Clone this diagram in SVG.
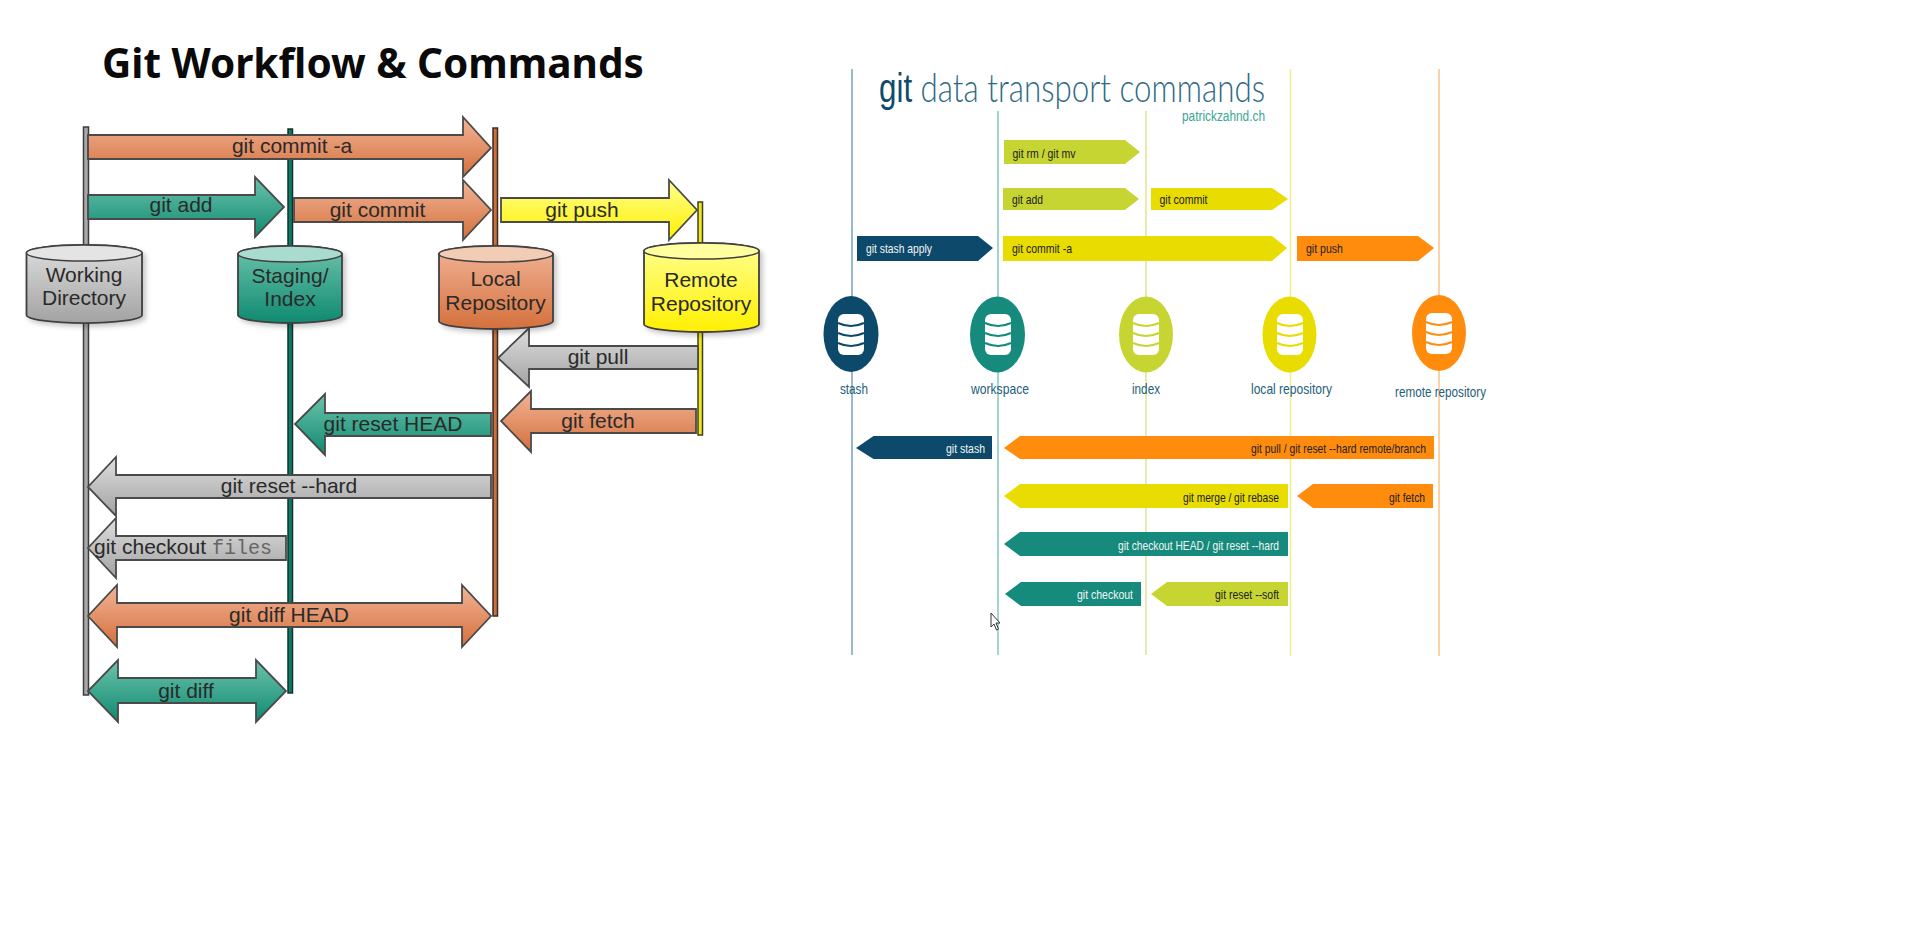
<svg xmlns="http://www.w3.org/2000/svg" xmlns:xlink="http://www.w3.org/1999/xlink" width="1914" height="942" viewBox="0 0 1914 942">
<style>
text{font-family:"Liberation Sans",Arial,sans-serif}
.title{font-family:"Noto Sans","Open Sans",sans-serif;font-weight:700;font-size:40.500px;fill:#0a0a0a}
.lab{font-size:21px;fill:#2a2a2a;text-anchor:middle}
.mono{font-family:"Liberation Mono",monospace;font-size:20px;fill:#666}
.a{stroke:#4a4a4a;stroke-width:1.8;stroke-linejoin:miter}
.or{fill:url(#gOr)}.te{fill:url(#gTe)}.gr{fill:url(#gGr)}.ye{fill:url(#gYe)}
.cy{stroke:#404040;stroke-width:1.8;filter:url(#sh)}
.rim{stroke:#404040;stroke-width:1.5}
.ll{stroke-width:1.5}
.pt{font-size:13px;fill:#222}
.pw{font-size:13px;fill:#f2f6f6}
.nl{font-size:15px;fill:#25607a}
.rl{stroke-width:1.6;fill:none}
.sep{fill:none;stroke:currentColor;stroke-width:2}
.soft{filter:url(#bl)}
</style>
<defs>
<linearGradient id="gOr" x1="0" y1="0" x2="0" y2="1"><stop offset="0" stop-color="#f2b497"/><stop offset="1" stop-color="#d4703c"/></linearGradient>
<linearGradient id="gTe" x1="0" y1="0" x2="0" y2="1"><stop offset="0" stop-color="#6cc3ac"/><stop offset="1" stop-color="#0f8a70"/></linearGradient>
<linearGradient id="gGr" x1="0" y1="0" x2="0" y2="1"><stop offset="0" stop-color="#dedede"/><stop offset="1" stop-color="#a2a2a2"/></linearGradient>
<linearGradient id="gYe" x1="0" y1="0" x2="0" y2="1"><stop offset="0" stop-color="#ffff90"/><stop offset="1" stop-color="#fff000"/></linearGradient>
<filter id="sh" x="-15%" y="-15%" width="130%" height="130%"><feDropShadow dx="3" dy="3" stdDeviation="2.500" flood-color="#000" flood-opacity=".22"/></filter>
<filter id="bl" x="-5%" y="-10%" width="110%" height="120%"><feGaussianBlur stdDeviation=".6"/></filter>
<g id="db" class="soft">
<rect x="-13" y="-20" width="26" height="41" rx="6" fill="#fff"/>
<path class="sep" d="M-13,-11Q0,-5 13,-11M-13,-1Q0,5 13,-1M-13,9Q0,15 13,9"/>
</g>
</defs>
<rect width="1914" height="942" fill="#fff"/>
<text class="title" x="102" y="78">Git Workflow &amp; Commands</text>

<g id="connectors">
<g id="lifelines-left">
<rect class="ll" x="83.500" y="127" width="5" height="568" fill="#a8a8a8" stroke="#3c3c3c"/>
<rect class="ll" x="288" y="129" width="4.500" height="564" fill="#0d7a66" stroke="#12332c"/>
<rect class="ll" x="493" y="128" width="4.500" height="488" fill="#c8703e" stroke="#3c2a20"/>
<rect class="ll" x="698" y="202" width="4.500" height="233" fill="#eee820" stroke="#40401c"/>
</g>
<g id="arrows-left">
<g id="a-commit-a"><path class="a or" d="M88,135H463V117L491,148L463,177V159H88Z"/><text class="lab" x="292" y="153">git commit -a</text></g>
<g id="a-add"><path class="a te" d="M88,195H255V177L284,207L255,237V219H88Z"/><text class="lab" x="181" y="212">git add</text></g>
<g id="a-commit"><path class="a or" d="M294,198H463V180L491,210L463,240V222H294Z"/><text class="lab" x="377.500" y="217">git commit</text></g>
<g id="a-push"><path class="a ye" d="M501,198H669V180L697,210L669,240V222H501Z"/><text class="lab" x="582" y="217">git push</text></g>
<g id="a-pull"><path class="a gr" d="M698,346H529V328L498,358L529,387V369H698Z"/><text class="lab" x="598" y="364">git pull</text></g>
<g id="a-fetch"><path class="a or" d="M696,409H531V391L501,421L531,452V433H696Z"/><text class="lab" x="598" y="428">git fetch</text></g>
<g id="a-reset-head"><path class="a te" d="M491,413H325V394L295,424L325,455V436H491Z"/><text class="lab" x="393" y="431">git reset HEAD</text></g>
<g id="a-reset-hard"><path class="a gr" d="M491,475H116V457L88,487L116,516V498H491Z"/><text class="lab" x="289" y="493">git reset --hard</text></g>
<g id="a-checkout"><path class="a gr" d="M286,536H116V518L88,548L116,578V560H286Z"/><text class="lab" style="text-anchor:start" x="94" y="554">git checkout <tspan class="mono">files</tspan></text></g>
<g id="a-diff-head"><path class="a or" d="M117,603H462V585L491,616L462,647V627H117V647L88,616L117,585Z"/><text class="lab" x="289" y="622">git diff HEAD</text></g>
<g id="a-diff"><path class="a te" d="M118,678H256V660L286,691L256,722V703H118V722L88,691L118,660Z"/><text class="lab" x="186" y="698">git diff</text></g>
</g>
<g id="lifelines-right">
<path class="rl" stroke="#7fa9bd" d="M852,69V655"/>
<path class="rl" stroke="#8ccac2" d="M998,111V655"/>
<path class="rl" stroke="#e0e79c" d="M1146,111V655"/>
<path class="rl" stroke="#f1ee92" d="M1290.500,69V656"/>
<path class="rl" stroke="#fbc792" d="M1439,69V656"/>
</g>
<g id="pills">
<g id="p-rm"><path class="soft" fill="#c6d530" d="M1004,140H1125L1140,152L1125,164H1004Z"/><text class="pt" x="1012.500" y="158" textLength="63" lengthAdjust="spacingAndGlyphs">git rm / git mv</text></g>
<g id="p-add"><path class="soft" fill="#c6d530" d="M1003,188H1125L1139,199L1125,210H1003Z"/><text class="pt" x="1012" y="204" textLength="31" lengthAdjust="spacingAndGlyphs">git add</text></g>
<g id="p-commit"><path class="soft" fill="#e8dc00" d="M1151,188H1272L1288,199L1272,210H1151Z"/><text class="pt" x="1159.500" y="204" textLength="48" lengthAdjust="spacingAndGlyphs">git commit</text></g>
<g id="p-stash-apply"><path class="soft" fill="#0a4a6b" d="M857,236H978L993,248L978,261H857Z"/><text class="pw" x="866" y="253" textLength="66" lengthAdjust="spacingAndGlyphs">git stash apply</text></g>
<g id="p-commit-a"><path class="soft" fill="#e8dc00" d="M1003,236H1272L1287,248L1272,261H1003Z"/><text class="pt" x="1012" y="253" textLength="60" lengthAdjust="spacingAndGlyphs">git commit -a</text></g>
<g id="p-push"><path class="soft" fill="#ff8c10" d="M1297,236H1418L1434,248L1418,261H1297Z"/><text class="pt" x="1306" y="253" textLength="37" lengthAdjust="spacingAndGlyphs">git push</text></g>
<g id="p-stash"><path class="soft" fill="#0a4a6b" d="M856,448L873.500,436H992V459H873.500Z"/><text class="pw" x="946" y="453" textLength="39" lengthAdjust="spacingAndGlyphs">git stash</text></g>
<g id="p-pull"><path class="soft" fill="#ff8c10" d="M1004,448L1020,436H1434V459H1020Z"/><text class="pt" x="1251" y="453" textLength="175" lengthAdjust="spacingAndGlyphs">git pull / git reset --hard remote/branch</text></g>
<g id="p-merge"><path class="soft" fill="#e8dc00" d="M1004,496L1020,484H1288V508H1020Z"/><text class="pt" x="1183" y="502" textLength="96" lengthAdjust="spacingAndGlyphs">git merge / git rebase</text></g>
<g id="p-fetch"><path class="soft" fill="#ff8c10" d="M1297,496L1313,484H1433V508H1313Z"/><text class="pt" x="1389" y="502" textLength="36" lengthAdjust="spacingAndGlyphs">git fetch</text></g>
<g id="p-checkout-head"><path class="soft" fill="#128a7c" d="M1004,544L1020,532H1288V556H1020Z"/><text class="pw" x="1118" y="550" textLength="161" lengthAdjust="spacingAndGlyphs">git checkout HEAD / git reset --hard</text></g>
<g id="p-checkout"><path class="soft" fill="#128a7c" d="M1005,594L1021,582H1141V606H1021Z"/><text class="pw" x="1077" y="599" textLength="56" lengthAdjust="spacingAndGlyphs">git checkout</text></g>
<g id="p-reset-soft"><path class="soft" fill="#c6d530" d="M1151,594L1167,582H1288V606H1167Z"/><text class="pt" x="1215" y="599" textLength="64" lengthAdjust="spacingAndGlyphs">git reset --soft</text></g>
</g>
</g>

<g id="node-working">
<path class="cy gr" d="M26.500,253A57.500,8 0 0 1 142,253V315A57.500,8 0 0 1 26.500,315Z"/>
<ellipse class="rim" cx="84.250" cy="253" rx="57.750" ry="8" fill="#e4e4e4"/>
<text class="lab" x="84" y="282">Working</text><text class="lab" x="84" y="305">Directory</text>
</g>
<g id="node-staging">
<path class="cy te" d="M238,254A52,8 0 0 1 342,254V315A52,8 0 0 1 238,315Z"/>
<ellipse class="rim" cx="290" cy="254" rx="52" ry="8" fill="#a9dccf"/>
<text class="lab" x="290" y="283">Staging/</text><text class="lab" x="290" y="306">Index</text>
</g>
<g id="node-local">
<path class="cy or" d="M439,254A57,8 0 0 1 553,254V321A57,8 0 0 1 439,321Z"/>
<ellipse class="rim" cx="496" cy="254" rx="57" ry="8" fill="#f3ccb6"/>
<text class="lab" x="495.500" y="286">Local</text><text class="lab" x="495.500" y="310">Repository</text>
</g>
<g id="node-remote">
<path class="cy ye" d="M644,251A57.500,8 0 0 1 759,251V324A57.500,8 0 0 1 644,324Z"/>
<ellipse class="rim" cx="701.500" cy="251" rx="57.500" ry="8" fill="#ffffa0"/>
<text class="lab" x="701" y="287">Remote</text><text class="lab" x="701" y="311">Repository</text>
</g>

<text id="title-right" x="879" y="102" font-size="40" fill="#2d6a85" textLength="386" lengthAdjust="spacingAndGlyphs" style="font-family:Lato,'Liberation Sans',sans-serif;font-weight:300"><tspan fill="#0f4c6a" style="font-family:'Liberation Sans',sans-serif;font-weight:400">git</tspan> data transport commands</text>
<text x="1182" y="121" font-size="14" fill="#3aa693" textLength="83" lengthAdjust="spacingAndGlyphs">patrickzahnd.ch</text>

<g id="node-stash"><ellipse class="soft" cx="851" cy="334" rx="27.500" ry="38" fill="#0a4a6b"/><use href="#db" xlink:href="#db" x="851" y="334" color="#0a4a6b"/><text class="nl" x="840" y="394" textLength="28" lengthAdjust="spacingAndGlyphs">stash</text></g>
<g id="node-workspace"><ellipse class="soft" cx="997.500" cy="334.500" rx="27.500" ry="38" fill="#128a7c"/><use href="#db" xlink:href="#db" x="998" y="334" color="#128a7c"/><text class="nl" x="971" y="394" textLength="58" lengthAdjust="spacingAndGlyphs">workspace</text></g>
<g id="node-index"><ellipse class="soft" cx="1146" cy="334.500" rx="27" ry="38" fill="#c6d530"/><use href="#db" xlink:href="#db" x="1146" y="334" color="#c6d530"/><text class="nl" x="1132" y="394" textLength="28" lengthAdjust="spacingAndGlyphs">index</text></g>
<g id="node-local-repository"><ellipse class="soft" cx="1289.500" cy="334.500" rx="27" ry="38" fill="#e8dc00"/><use href="#db" xlink:href="#db" x="1290" y="334" color="#e8dc00"/><text class="nl" x="1251" y="394" textLength="81" lengthAdjust="spacingAndGlyphs">local repository</text></g>
<g id="node-remote-repository"><ellipse class="soft" cx="1439" cy="333" rx="27" ry="38" fill="#ff8c10"/><use href="#db" xlink:href="#db" x="1439" y="333" color="#ff8c10"/><text class="nl" x="1395" y="397" textLength="91" lengthAdjust="spacingAndGlyphs">remote repository</text></g>

<path id="cursor" d="M991,613V627L994,624L996.500,630L998.500,629L996,623L1000,623Z" fill="#fff" stroke="#333" stroke-width="1"/>
</svg>
